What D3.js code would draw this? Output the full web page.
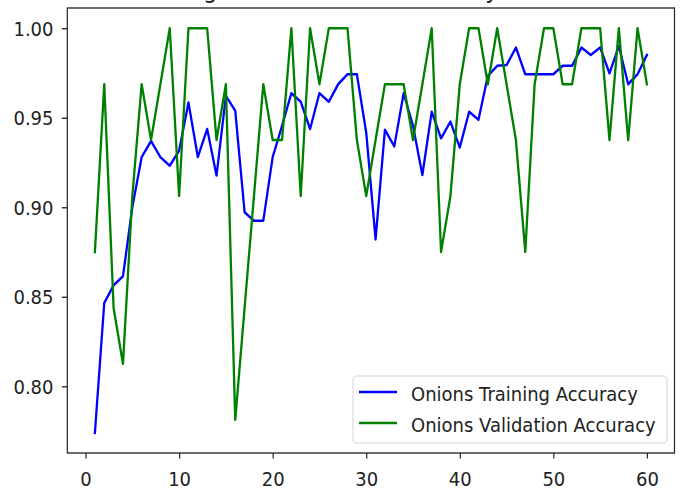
<!DOCTYPE html>
<html><head><meta charset="utf-8">
<script src="https://cdn.jsdelivr.net/npm/d3@7"></script>
<style>html,body{margin:0;padding:0;background:#fff;overflow:hidden} svg{display:block}</style>
</head><body><div id="chart"></div>
<script>
// ---- data ----
const epochs = [1,2,3,4,5,6,7,8,9,10,11,12,13,14,15,16,17,18,19,20,
  21,22,23,24,25,26,27,28,29,30,31,32,33,34,35,36,37,38,39,40,
  41,42,43,44,45,46,47,48,49,50,51,52,53,54,55,56,57,58,59,60];
const trainAcc = [0.774,0.8465,0.8564,0.8614,0.900,0.928,0.937,0.928,0.9232,0.9316,
  0.9585,0.928,0.9437,0.9177,0.9622,0.9539,0.8972,0.8925,0.8925,0.928,
  0.9455,0.9637,0.9589,0.9437,0.9637,0.9589,0.9687,0.9743,0.9743,0.9418,
  0.882,0.9433,0.934,0.9637,0.9455,0.918,0.9533,0.9385,0.9478,0.9334,
  0.9533,0.9489,0.9734,0.979,0.9794,0.9892,0.9743,0.9743,0.9743,0.9743,
  0.979,0.979,0.9892,0.985,0.9892,0.9748,0.990,0.9687,0.9743,0.985];
const valAcc = [0.875,0.96875,0.84375,0.8125,0.90625,0.96875,0.9375,0.96875,1.0,0.90625,
  1.0,1.0,1.0,0.9375,0.96875,0.78125,0.84375,0.90625,0.96875,0.9375,
  0.9375,1.0,0.90625,1.0,0.96875,1.0,1.0,1.0,0.9375,0.90625,
  0.9375,0.96875,0.96875,0.96875,0.9375,0.96875,1.0,0.875,0.90625,0.96875,
  1.0,1.0,0.96875,1.0,0.96875,0.9375,0.875,0.96875,1.0,1.0,
  0.96875,0.96875,1.0,1.0,1.0,0.9375,1.0,0.9375,1.0,0.96875];
const xTicks = [0,10,20,30,40,50,60];
const yTicks = [0.80,0.85,0.90,0.95,1.00];
const seriesNames = ["Onions Training Accuracy","Onions Validation Accuracy"];
const seriesColors = ["#0000ff","#008000"];
const titleText = "Training and Validation Accuracy of Onions";

// ---- layout (pixel space) ----
const W = 682, H = 488, SY = 1.1;           // vertical stretch like the reference
const Y = v => v / SY;
const pLeft = 67.3, pRight = 674.5, pTop = 8, pBottom = 453;
const font = "'DejaVu Sans', sans-serif";
const ink = "#222";

const svg = d3.select("#chart").append("svg")
  .attr("width", W).attr("height", H)
  .attr("viewBox", `0 0 ${W} ${H / SY}`)
  .attr("preserveAspectRatio", "none");
svg.append("rect").attr("width", W).attr("height", H / SY).attr("fill", "#fff");

const all = trainAcc.concat(valAcc);
const xmin = d3.min(epochs), xmax = d3.max(epochs), xm = (xmax - xmin) * 0.05;
const ymin = d3.min(all), ymax = d3.max(all), ym = (ymax - ymin) * 0.05;
const x = d3.scaleLinear().domain([xmin - xm, xmax + xm]).range([pLeft, pRight]);
const y = d3.scaleLinear().domain([ymin - ym, ymax + ym]).range([Y(pBottom), Y(pTop)]);

// title (cut off at the top edge as in the reference)
svg.append("text").attr("x", (pLeft + pRight) / 2).attr("y", Y(-2.5))
  .attr("text-anchor", "middle").attr("font-family", font).attr("font-size", 22.8)
  .attr("fill", ink).text(titleText);

// series
const line = d3.line().x((d, i) => x(epochs[i])).y(d => y(d));
[trainAcc, valAcc].forEach((s, k) => {
  svg.append("path").datum(s).attr("d", line).attr("fill", "none")
    .attr("stroke", seriesColors[k]).attr("stroke-width", 2.3)
    .attr("stroke-linejoin", "round").attr("stroke-linecap", "square");
});

// axes
const gx = svg.append("g").attr("transform", `translate(0,${Y(pBottom)})`)
  .call(d3.axisBottom(x).tickValues(xTicks).tickSize(5.5 / SY).tickFormat(d3.format("d")));
gx.selectAll("text").attr("y", Y(486) - Y(pBottom)).attr("dy", null);
const gy = svg.append("g").attr("transform", `translate(${pLeft},0)`)
  .call(d3.axisLeft(y).tickValues(yTicks).tickSize(5.5).tickFormat(d3.format(".2f")));
gy.selectAll("text").attr("x", -(pLeft - 53.5)).attr("dy", "0.36em");
[gx, gy].forEach(g => {
  g.select(".domain").remove();
  g.attr("font-family", font).attr("font-size", 18);
  g.selectAll("line").attr("stroke", ink).attr("stroke-width", 1.2);
  g.selectAll("text").attr("fill", ink);
});

// frame
svg.append("rect").attr("x", pLeft).attr("y", Y(pTop))
  .attr("width", pRight - pLeft).attr("height", Y(pBottom) - Y(pTop))
  .attr("fill", "none").attr("stroke", ink).attr("stroke-width", 1.2);

// legend
const lg = svg.append("g");
lg.append("rect").attr("x", 353).attr("y", Y(376)).attr("width", 314).attr("height", Y(443) - Y(376))
  .attr("rx", 4).attr("ry", 4 / SY).attr("fill", "#fff").attr("fill-opacity", 0.8)
  .attr("stroke", "#d6d6d6").attr("stroke-width", 1);
const rowLine = [392, 423], rowText = [401, 432];
seriesNames.forEach((n, k) => {
  lg.append("line").attr("x1", 359).attr("x2", 397).attr("y1", Y(rowLine[k])).attr("y2", Y(rowLine[k]))
    .attr("stroke", seriesColors[k]).attr("stroke-width", 2.3);
  lg.append("text").attr("x", 411).attr("y", Y(rowText[k]))
    .attr("font-family", font).attr("font-size", 18).attr("fill", ink).text(n);
});
</script>
</body></html>
